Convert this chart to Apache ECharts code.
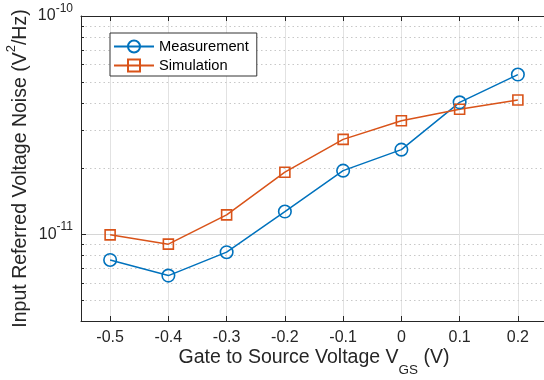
<!DOCTYPE html>
<html><head><meta charset="utf-8">
<script src="https://cdn.jsdelivr.net/npm/echarts@6/dist/echarts.min.js"></script>
<style>html,body{margin:0;padding:0;background:#fff}#c{width:544px;height:380px}</style>
</head><body><div id="c"></div>
<script>
const vgs = [-0.5, -0.4, -0.3, -0.2, -0.1, 0, 0.1, 0.2];
const measurement = [7.62e-12, 6.46e-12, 8.27e-12, 1.27e-11, 1.955e-11, 2.44e-11, 4.02e-11, 5.39e-11];
const simulation = [9.93e-12, 9.0e-12, 1.226e-11, 1.923e-11, 2.72e-11, 3.31e-11, 3.74e-11, 4.12e-11];
const xTickLabels = ['-0.5', '-0.4', '-0.3', '-0.2', '-0.1', '0', '0.1', '0.2'];
const yMinorTicks = [5e-12, 6e-12, 7e-12, 8e-12, 9e-12, 2e-11, 3e-11, 4e-11, 5e-11, 6e-11, 7e-11, 8e-11, 9e-11];
const seriesNames = ['Measurement', 'Simulation'];

const FONT = '"Liberation Sans", Arial, Helvetica, sans-serif';
const AX = '#262626';
const chart = echarts.init(document.getElementById('c'), null, {renderer: 'canvas'});

function xLabel(v) {
  const i = vgs.findIndex(t => Math.abs(t - v) < 1e-6);
  return i >= 0 ? xTickLabels[i] : '';
}
function yLabel(v) {
  const e = Math.log10(v);
  if (Math.abs(e - Math.round(e)) > 1e-6) return '';
  return '{b|10}{s|' + Math.round(e) + '}';
}
const xCommon = {
  type: 'value', min: -0.55, max: 0.25, splitNumber: 8,
  axisLine: {show: true, onZero: false, lineStyle: {color: AX, width: 1}},
  axisTick: {show: true, inside: true, length: 5, lineStyle: {color: AX, width: 1}},
};

chart.setOption({
  animation: false,
  backgroundColor: '#fff',
  textStyle: {fontFamily: FONT},
  grid: {left: 81, top: 16, right: -3, bottom: 59, containLabel: false, outerBoundsMode: 'none'},
  legend: {
    data: seriesNames,
    orient: 'vertical',
    left: 110, top: 33,
    padding: [6, 8, 3, 3],
    itemWidth: 40, itemHeight: 15, itemGap: 4,
    backgroundColor: '#fff',
    borderColor: '#333', borderWidth: 1, borderRadius: 0,
    textStyle: {fontSize: 14.7, lineHeight: 15, color: '#000', fontFamily: FONT},
    selectedMode: false
  },
  xAxis: [
    Object.assign({}, xCommon, {
      position: 'bottom',
      name: '{n|Gate to Source Voltage V}{sub|GS}{n| (V)}',
      nameLocation: 'middle', nameGap: 27, nameMoveOverlap: false,
      nameTextStyle: {
        color: AX, fontFamily: FONT,
        rich: {
          n: {fontSize: 19.5, lineHeight: 20, verticalAlign: 'top', color: AX, fontFamily: FONT},
          sub: {fontSize: 13.5, lineHeight: 13, padding: [15, 0, 0, 0], verticalAlign: 'top', color: AX, fontFamily: FONT}
        }
      },
      axisLabel: {show: true, margin: 9, fontSize: 16, color: AX, fontFamily: FONT, formatter: xLabel},
      splitLine: {show: true, lineStyle: {color: '#e2e2e2', width: 1}}
    }),
    Object.assign({}, xCommon, {
      position: 'top',
      axisLabel: {show: false},
      splitLine: {show: false}
    })
  ],
  yAxis: {
    type: 'log', logBase: 10, min: 4e-12, max: 1e-10,
    name: '{n|Input Referred Voltage Noise (V}{p|2}{n|/Hz)}',
    nameLocation: 'middle', nameGap: 50, nameMoveOverlap: false,
    nameTextStyle: {
      color: AX, fontFamily: FONT,
      rich: {
        n: {fontSize: 19.5, lineHeight: 20, verticalAlign: 'bottom', color: AX, fontFamily: FONT},
        p: {fontSize: 13, lineHeight: 13, padding: [0, 0, 13, 0], verticalAlign: 'bottom', color: AX, fontFamily: FONT}
      }
    },
    axisLine: {show: true, onZero: false, lineStyle: {color: AX, width: 1}},
    axisTick: {show: true, inside: true, length: 5, lineStyle: {color: AX, width: 1}},
    axisLabel: {
      show: true, margin: 8, verticalAlign: 'middle', formatter: yLabel, color: AX,
      rich: {
        b: {fontSize: 16, lineHeight: 16, verticalAlign: 'bottom', color: AX, fontFamily: FONT},
        s: {fontSize: 12, lineHeight: 12, padding: [0, 0, 9, 0], verticalAlign: 'bottom', color: AX, fontFamily: FONT}
      }
    },
    splitLine: {show: true, lineStyle: {color: '#d6d6d6', width: 1}}
  },
  series: [
    {
      type: 'custom', silent: true, z: 1, xAxisIndex: 0, yAxisIndex: 0,
      data: yMinorTicks.map(v => [vgs[0], v]),
      encode: {x: 0, y: 1},
      renderItem: function (params, api) {
        const y = Math.round(api.coord([api.value(0), api.value(1)])[1]) + 0.5;
        const cs = params.coordSys;
        return {
          type: 'group',
          children: [
            {type: 'line', shape: {x1: cs.x, y1: y, x2: cs.x + cs.width, y2: y},
              style: {stroke: '#c8c8c8', lineWidth: 1, lineDash: [1.5, 3]}},
            {type: 'line', shape: {x1: cs.x, y1: y, x2: cs.x + 3, y2: y},
              style: {stroke: AX, lineWidth: 1}}
          ]
        };
      }
    },
    {
      name: seriesNames[0], type: 'line', z: 3,
      data: vgs.map((x, i) => [x, measurement[i]]),
      symbol: 'circle', symbolSize: 12.5,
      lineStyle: {color: '#0072BD', width: 1.5},
      itemStyle: {color: 'rgba(255,255,255,0)', borderColor: '#0072BD', borderWidth: 1.6},
      emphasis: {disabled: true}
    },
    {
      name: seriesNames[1], type: 'line', z: 3,
      data: vgs.map((x, i) => [x, simulation[i]]),
      symbol: 'rect', symbolSize: 10,
      lineStyle: {color: '#D95319', width: 1.5},
      itemStyle: {color: 'rgba(255,255,255,0)', borderColor: '#D95319', borderWidth: 1.6},
      emphasis: {disabled: true}
    }
  ]
});
</script>
</body></html>
